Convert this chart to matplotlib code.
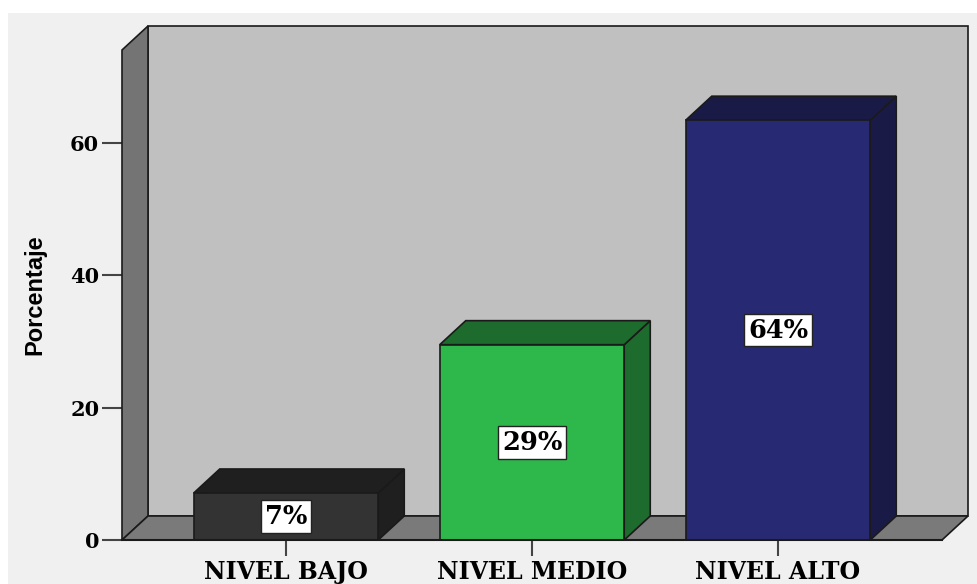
import matplotlib.pyplot as plt
from matplotlib.patches import Polygon, Rectangle

# datos
categorias = ["NIVEL BAJO", "NIVEL MEDIO", "NIVEL ALTO"]
porcentajes = [7.1, 29.5, 63.4]
etiquetas = ["7%", "29%", "64%"]
colores_frente = ["#333333", "#2eb84b", "#272a72"]
colores_lado = ["#1f1f1f", "#1d6c2d", "#1a1a47"]
yticks = [0, 20, 40, 60]

W, H = 978, 584
fig = plt.figure(figsize=(W / 100, H / 100), dpi=100, facecolor="white")
fig.patches.append(Rectangle((8 / W, 0), 970 / W, 571 / H, transform=fig.transFigure,
                             facecolor="#f0f0f0", edgecolor="none", zorder=-10))

ax = fig.add_axes([122 / W, 44 / H, 820 / W, 490 / H])
ax.set_facecolor("none")
x0, x1 = -2 / 3, 2 + 2 / 3
ytop = 74
ax.set_xlim(x0, x1)
ax.set_ylim(0, ytop)
for s in ax.spines.values():
    s.set_visible(False)

# profundidad 3D
dx = 26 / 246
dy = 24 / (490 / ytop)

def poly(pts, fc, z, ec="#1a1a1a", lw=1.2):
    ax.add_patch(Polygon(pts, closed=True, facecolor=fc, edgecolor=ec, lw=lw,
                         zorder=z, clip_on=False, joinstyle="miter"))

# paredes
poly([(x0 + dx, dy), (x1 + dx, dy), (x1 + dx, ytop + dy), (x0 + dx, ytop + dy)], "#c0c0c0", 1)
poly([(x0, 0), (x0 + dx, dy), (x0 + dx, ytop + dy), (x0, ytop)], "#747474", 2)
poly([(x0, 0), (x1, 0), (x1 + dx, dy), (x0 + dx, dy)], "#7a7a7a", 2)

# barras
ancho = 0.75
for i, (v, cf, cl, lab) in enumerate(zip(porcentajes, colores_frente, colores_lado, etiquetas)):
    l, r = i - ancho / 2, i + ancho / 2
    poly([(r, 0), (r + dx, dy), (r + dx, v + dy), (r, v)], cl, 3 + i)
    poly([(l, v), (r, v), (r + dx, v + dy), (l + dx, v + dy)], cl, 3 + i)
    poly([(l, 0), (r, 0), (r, v), (l, v)], cf, 3.5 + i)
    ax.text(i, v / 2, lab, ha="center", va="center", fontsize=18.5, fontweight="bold",
            family="DejaVu Serif", zorder=10,
            bbox=dict(boxstyle="square,pad=0.15", facecolor="white", edgecolor="#222222", lw=1))

ax.plot([x0, x1], [0, 0], color="#1a1a1a", lw=1.5, zorder=8, clip_on=False)

ax.set_yticks(yticks)
ax.set_yticklabels([str(t) for t in yticks], family="DejaVu Serif", fontweight="bold", fontsize=15)
ax.set_xticks(range(len(categorias)))
ax.set_xticklabels(categorias, family="DejaVu Serif", fontweight="bold", fontsize=17)
ax.tick_params(axis="y", length=14.4, width=1.5, color="#444444", pad=2)
ax.tick_params(axis="x", length=11.5, width=1.5, color="#444444", pad=3)
ax.set_ylabel("Porcentaje", family="Liberation Sans", fontweight="bold", fontsize=17, labelpad=17)

fig.savefig("out.png", dpi=100, facecolor=fig.get_facecolor())
